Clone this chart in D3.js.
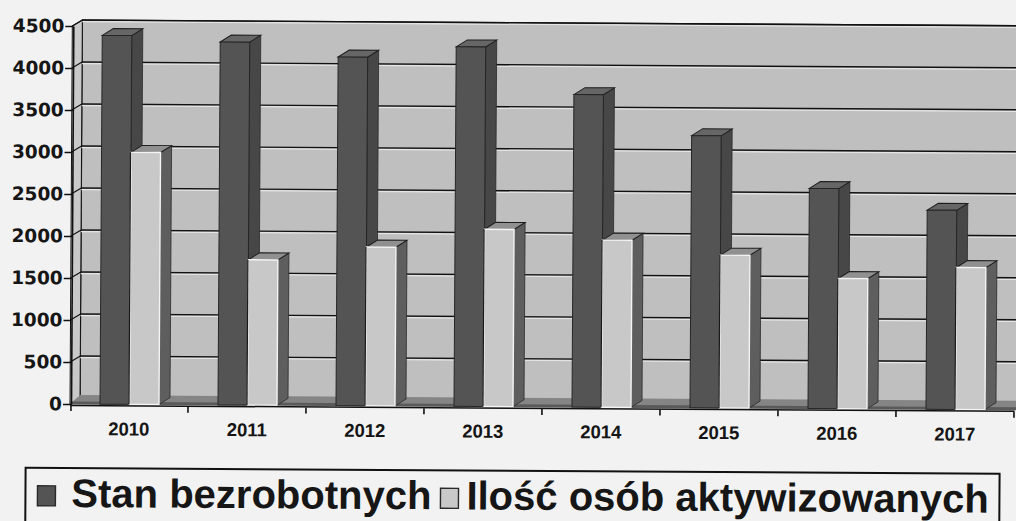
<!DOCTYPE html>
<html>
<head>
<meta charset="utf-8">
<script src="https://cdn.jsdelivr.net/npm/d3@7"></script>
<style>
  html, body { margin: 0; padding: 0; background: #f3f3f3; }
  svg { display: block; }
</style>
</head>
<body>
<div id="chart"></div>
<script>
  // ---- Data ---------------------------------------------------------------
  var years = ['2010', '2011', '2012', '2013', '2014', '2015', '2016', '2017'];
  var seriesNames = ['Stan bezrobotnych', 'Ilość osób aktywizowanych'];
  var stanBezrobotnych = [4390, 4320, 4150, 4280, 3720, 3240, 2620, 2370];
  var iloscAktywizowanych = [3000, 1730, 1890, 2110, 1990, 1820, 1550, 1690];
  var yTicks = [0, 500, 1000, 1500, 2000, 2500, 3000, 3500, 4000, 4500];

  // ---- Layout ---------------------------------------------------------------
  var W = 1016, H = 521;
  var DEPTH = { wallDx: 10, wallDy: -6, barDx: 11, barDy: -7 };
  var COLORS = {
    wall: '#bfbfbf', sideWall: '#c9c9c9', floor: '#858585', floorEdge: '#5a5a5a',
    grid: '#111', dark: ['#545454', '#474747', '#666666'],
    light: ['#c8c8c8', '#5e5e5e', '#909090']
  };

  var svg = d3.select('#chart').append('svg')
    .attr('width', W).attr('height', H);

  svg.append('rect').attr('width', W).attr('height', H).attr('fill', '#f2f2f2');

  // the page was scanned slightly skewed
  var root = svg.append('g').attr('transform', 'rotate(0.35, 70, 404)');

  var x0 = d3.scaleBand().domain(years).range([70, 1014]);
  var x1 = d3.scaleBand().domain(seriesNames).range([30, 89]);
  var y = d3.scaleLinear().domain([0, 4500]).range([404, 26]);

  var xL = x0.range()[0], xR = x0.range()[1];
  var wdx = DEPTH.wallDx, wdy = DEPTH.wallDy;

  // ---- Walls and floor ------------------------------------------------------
  root.append('rect')
    .attr('x', xL + wdx).attr('y', y(4500) + wdy)
    .attr('width', xR - xL + 20).attr('height', y(0) - y(4500))
    .attr('fill', COLORS.wall).attr('stroke', COLORS.grid).attr('stroke-width', 1.3);

  root.append('polygon')
    .attr('points', [[xL, y(0)], [xL + wdx, y(0) + wdy], [xL + wdx, y(4500) + wdy], [xL, y(4500)]].join(' '))
    .attr('fill', COLORS.sideWall).attr('stroke', COLORS.grid).attr('stroke-width', 1);

  // gridline halos then gridlines on back and side wall
  root.append('g').selectAll('line').data(yTicks.slice(1)).join('line')
    .attr('x1', xL + wdx).attr('x2', xR + 30)
    .attr('y1', function(d) { return y(d) + wdy + 1.6; })
    .attr('y2', function(d) { return y(d) + wdy + 1.6; })
    .attr('stroke', '#e6e6e6').attr('stroke-width', 1.2);
  root.append('g').selectAll('line').data(yTicks.slice(1)).join('line')
    .attr('x1', xL + wdx).attr('x2', xR + 30)
    .attr('y1', function(d) { return y(d) + wdy; })
    .attr('y2', function(d) { return y(d) + wdy; })
    .attr('stroke', COLORS.grid).attr('stroke-width', 1.4);
  root.append('g').selectAll('line').data(yTicks.slice(1)).join('line')
    .attr('x1', xL).attr('x2', xL + wdx)
    .attr('y1', function(d) { return y(d); })
    .attr('y2', function(d) { return y(d) + wdy; })
    .attr('stroke', COLORS.grid).attr('stroke-width', 1.2);

  root.append('polygon')
    .attr('points', [[xL, y(0)], [xR + 20, y(0)], [xR + 30, y(0) + wdy - 3], [xL + wdx, y(0) + wdy - 3]].join(' '))
    .attr('fill', COLORS.floor);
  root.append('rect')
    .attr('x', xL).attr('y', y(0) - 2.5).attr('width', xR - xL + 20).attr('height', 3)
    .attr('fill', COLORS.floorEdge);

  // ---- Bars ---------------------------------------------------------------
  var bdx = DEPTH.barDx, bdy = DEPTH.barDy;
  var barData = [];
  years.forEach(function(yr, i) {
    barData.push({ year: yr, s: 0, v: stanBezrobotnych[i] });
    barData.push({ year: yr, s: 1, v: iloscAktywizowanych[i] });
  });

  var bars = root.append('g').selectAll('g').data(barData).join('g');
  bars.each(function(d) {
    var g = d3.select(this);
    var bx = x0(d.year) + x1(seriesNames[d.s]);
    var bw = x1.bandwidth();
    var top = y(d.v), base = y(0);
    var c = d.s === 0 ? COLORS.dark : COLORS.light;
    // side
    g.append('polygon')
      .attr('points', [[bx + bw, top], [bx + bw + bdx, top + bdy], [bx + bw + bdx, base + bdy], [bx + bw, base]].join(' '))
      .attr('fill', c[1]).attr('stroke', '#2a2a2a').attr('stroke-width', 0.8);
    // top
    g.append('polygon')
      .attr('points', [[bx, top], [bx + bdx, top + bdy], [bx + bw + bdx, top + bdy], [bx + bw, top]].join(' '))
      .attr('fill', c[2]).attr('stroke', '#1e1e1e').attr('stroke-width', 1);
    // front
    g.append('rect')
      .attr('x', bx).attr('y', top).attr('width', bw).attr('height', base - top)
      .attr('fill', c[0])
      .attr('stroke', d.s === 0 ? '#262626' : '#f4f4f4')
      .attr('stroke-width', d.s === 0 ? 1 : 1.4);
    if (d.s === 1) {
      g.append('line')
        .attr('x1', bx - 0.5).attr('x2', bx - 0.5).attr('y1', top).attr('y2', base)
        .attr('stroke', '#1a1a1a').attr('stroke-width', 1.2);
    }
  });

  // ---- Axes ---------------------------------------------------------------
  var yAxis = root.append('g')
    .attr('transform', 'translate(' + (xL + 1) + ',0)')
    .call(d3.axisLeft(y).tickValues(yTicks).tickFormat(d3.format('d'))
      .tickSize(8).tickSizeOuter(0).tickPadding(1));
  yAxis.select('.domain').attr('stroke', '#111').attr('stroke-width', 1.6);
  yAxis.selectAll('.tick line').attr('stroke', '#111').attr('stroke-width', 1.6);
  yAxis.selectAll('.tick text')
    .attr('fill', '#161616')
    .style('font-family', '"DejaVu Sans", sans-serif')
    .style('font-weight', 'bold')
    .style('font-size', '18.5px');

  var xAxis = root.append('g')
    .attr('transform', 'translate(0,' + (y(0) + 1) + ')')
    .call(d3.axisBottom(x0).tickSize(0).tickSizeOuter(0).tickPadding(17));
  xAxis.select('.domain').attr('stroke', '#111').attr('stroke-width', 1.5);
  xAxis.selectAll('.tick text')
    .attr('fill', '#151515')
    .style('font-family', '"Liberation Sans", Arial, sans-serif')
    .style('font-weight', 'bold')
    .style('font-size', '18.5px');

  // boundary ticks between categories
  root.append('g').selectAll('line').data(years).join('line')
    .attr('x1', function(d) { return x0(d) + x0.bandwidth(); })
    .attr('x2', function(d) { return x0(d) + x0.bandwidth(); })
    .attr('y1', y(0) + 2).attr('y2', y(0) + 8)
    .attr('stroke', '#111').attr('stroke-width', 1.6);
  root.append('line')
    .attr('x1', xL + 1).attr('x2', xL + 1).attr('y1', y(0)).attr('y2', y(0) + 7)
    .attr('stroke', '#111').attr('stroke-width', 1.6);

  // ---- Legend -------------------------------------------------------------
  var legend = root.append('g');
  legend.append('rect')
    .attr('x', 26).attr('y', 468).attr('width', 974).attr('height', 80)
    .attr('fill', 'none').attr('stroke', '#111').attr('stroke-width', 2);

  var lx = 38;
  seriesNames.forEach(function(name, i) {
    legend.append('rect')
      .attr('x', lx).attr('y', 486).attr('width', 18).attr('height', 20)
      .attr('fill', i === 0 ? COLORS.dark[0] : COLORS.light[0])
      .attr('stroke', '#2a2a2a').attr('stroke-width', 1.4);
    var t = legend.append('text')
      .attr('x', lx + (i === 0 ? 34 : 26)).attr('y', 507)
      .attr('fill', '#161616')
      .style('font-family', '"Liberation Sans", Arial, sans-serif')
      .style('font-weight', 'bold')
      .style('font-size', '40px')
      .text(name);
    lx = lx + (i === 0 ? 34 : 26) + t.node().getComputedTextLength() + 9;
  });
</script>
</body>
</html>
